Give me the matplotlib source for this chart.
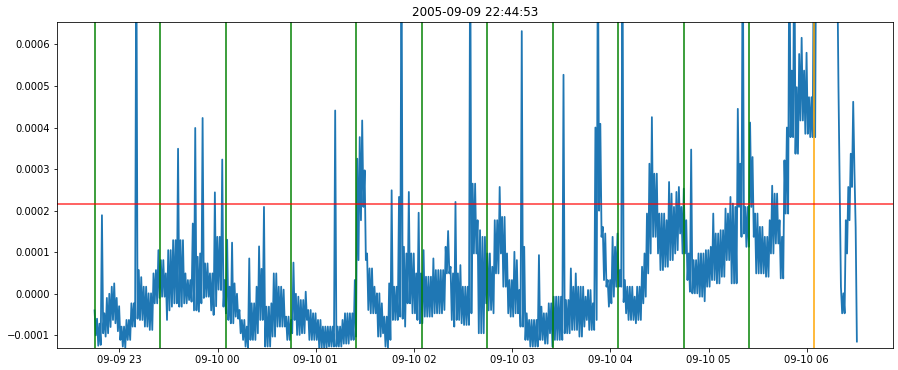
import numpy as np
import pandas as pd
import matplotlib
matplotlib.use("Agg")
import matplotlib.pyplot as plt
import matplotlib.dates as mdates

# ---- data: per 1.5-minute bin, the high and low value (units of 1e-6) ----
start_time = "2005-09-09 22:44:53"
bin_minutes = 1.5
bin_high_e6 = [
    -40, -60, -72, 189, -47, -10, 0, 17, 25, -10,
    -30, -79, -79, -63, -63, -23, -23, 900, 57, 40,
    17, 17, 1, 1, 49, 57, 105, 81, 81, 49,
    105, 105, 129, 129, 349, 129, 129, 49, 33, 33,
    169, 399, 89, 97, 423, 73, 73, 49, 49, 244,
    137, 137, 323, 33, 130, 17, 123, 25, 0, -39,
    -63, -63, -79, 85, -23, -23, 17, 114, 60, 209,
    -31, -31, -23, 49, 49, 17, 17, 10, -55, -55,
    -63, 75, 0, -7, -15, -15, 5, -39, -39, -47,
    -47, -63, -63, -79, -79, -79, -79, -79, 441, -79,
    -79, -63, -47, -47, -47, -47, 33, 325, 377, 417,
    297, 97, 61, 61, 17, 1, 1, -23, -55, -55,
    25, 249, 17, 17, 233, 900, 113, 97, 245, 97,
    97, 49, 195, 49, 105, 41, 41, 41, 85, 57,
    57, 57, 57, 113, 151, 65, 49, 221, 49, 69,
    17, 17, 17, 900, 265, 265, 177, 153, 137, 137,
    97, 97, 65, 177, 177, 257, 185, 185, 97, 33,
    33, 101, 81, 9, 632, 113, -47, -63, -63, -63,
    -63, 93, -31, -47, -47, -23, -23, -7, -7, -7,
    -7, 527, -15, -15, 61, 17, 49, 17, 17, 17,
    -7, 9, 9, -23, 400, 900, 409, 161, 145, 33,
    33, 137, 113, 145, 57, 900, 33, 17, 17, 17,
    -7, 17, 17, 65, 97, 193, 313, 425, 289, 289,
    193, 193, 193, 177, 269, 241, 209, 245, 257, 209,
    253, 177, 97, 347, 81, 81, 97, 97, 97, 105,
    105, 113, 193, 145, 145, 153, 153, 205, 193, 233,
    217, 209, 445, 313, 900, 209, 209, 412, 329, 193,
    193, 161, 161, 137, 137, 177, 260, 241, 241, 177,
    137, 321, 400, 900, 537, 900, 497, 577, 616, 537,
    580, 473, 473, 900, 1000, 1000, 1000, 1000, 1000, 1000,
    1000, 1000, 1000, 497, 17, 1, 177, 257, 337, 462, 160,
]
bin_low_e6 = [
    -100, -125, -123, -95, -103, -95, -80, -63, -71, -90,
    -111, -127, -130, -111, -111, -79, -79, -60, -63, -63,
    -79, -79, -87, -87, -23, -23, -10, -7, -7, -63,
    -40, -31, -23, -23, -31, -31, -23, -23, -15, -19,
    -40, -40, -43, -23, -10, -7, -7, -40, -51, -30,
    10, 9, -31, -47, -63, -71, -71, -55, -60, -95,
    -111, -127, -130, -111, -111, -111, -95, -63, -63, -127,
    -127, -127, -103, -103, -79, -79, -79, -79, -111, -111,
    -95, -63, -99, -99, -95, -95, -63, -111, -111, -111,
    -111, -130, -130, -130, -130, -127, -127, -127, -127, -127,
    -127, -120, -120, -120, -111, -111, -103, 81, 177, 209,
    81, -39, -47, -47, -47, -103, -103, -95, -127, -130,
    -111, -63, -63, -63, -55, -60, -79, -23, -23, -47,
    -47, -63, -71, -71, -55, -55, -55, -55, -47, -47,
    -47, -47, -39, 49, 49, -63, -79, -63, -63, -71,
    -75, -75, -75, -47, 97, 97, -95, -95, -95, -23,
    -40, -39, -47, 49, 49, 97, 17, 17, -47, -55,
    -55, -47, -47, -79, -79, -111, -111, -127, -127, -127,
    -127, -111, -111, -120, -120, -95, -127, -111, -111, -111,
    -111, -95, -95, -95, -87, -87, -87, -103, -103, -79,
    -63, -87, -87, -87, -63, 200, 137, 33, 17, -31,
    -23, -7, 17, 17, 17, -20, -47, -63, -63, -63,
    -71, -63, -63, -23, -7, 49, 97, 137, 137, 97,
    57, 57, 65, 65, 81, 81, 97, 105, 145, 97,
    97, 33, 5, 1, 1, 1, -7, -7, -18, 17,
    17, 33, 33, 25, 25, 41, 41, 81, 81, 25,
    25, 25, 209, 137, 145, 113, 113, 209, 137, 49,
    49, 49, 49, 41, 41, 97, 97, 121, 121, 37,
    37, 193, 193, 377, 377, 337, 337, 417, 417, 385,
    385, 377, 377, 377, 800, 800, 800, 800, 800, 800,
    800, 800, 800, 257, -47, -47, 97, 177, 257, 297, -115,
]
threshold = 0.000215
green_every_minutes = 40
green_count = 11
orange_time = "2005-09-10 06:04:15"

hi = np.array(bin_high_e6) * 1e-6
lo = np.array(bin_low_e6) * 1e-6
n = len(hi)
t0 = pd.Timestamp(start_time)
t_hi = t0 + pd.to_timedelta(np.arange(n) * bin_minutes, unit="m")
t_lo = t_hi + pd.Timedelta(minutes=bin_minutes / 2)
times = np.empty(2 * n, dtype="datetime64[ns]")
times[0::2] = t_hi.values
times[1::2] = t_lo.values
values = np.empty(2 * n)
values[0::2] = hi
values[1::2] = lo

W, H, DPI = 898, 370, 72
fig = plt.figure(figsize=(W / DPI, H / DPI), dpi=DPI)
ax = fig.add_axes([57 / W, 1 - 348 / H, (893.3 - 57) / W, (348 - 22) / H])

ax.plot(times, values, color="#1f77b4", lw=1.8)
for k in range(green_count):
    ax.axvline(t0 + pd.Timedelta(minutes=green_every_minutes * k),
               color="green", alpha=0.75, lw=2)
ax.axvline(pd.Timestamp(orange_time), color="orange", alpha=0.75, lw=2)
ax.axhline(threshold, color="red", alpha=0.8, lw=1.5)

ax.set_xlim(t0 - pd.Timedelta(minutes=22.96), t0 + pd.Timedelta(minutes=488.0))
ax.set_ylim(-0.0001305, 0.000654)
ax.set_yticks([-0.0001, 0.0, 0.0001, 0.0002, 0.0003, 0.0004, 0.0005, 0.0006])
ax.xaxis.set_major_locator(mdates.HourLocator(interval=1))
ax.xaxis.set_major_formatter(mdates.DateFormatter("%m-%d %H"))
ax.set_title(start_time, fontsize=12)

fig.savefig("out.png", dpi=DPI)
